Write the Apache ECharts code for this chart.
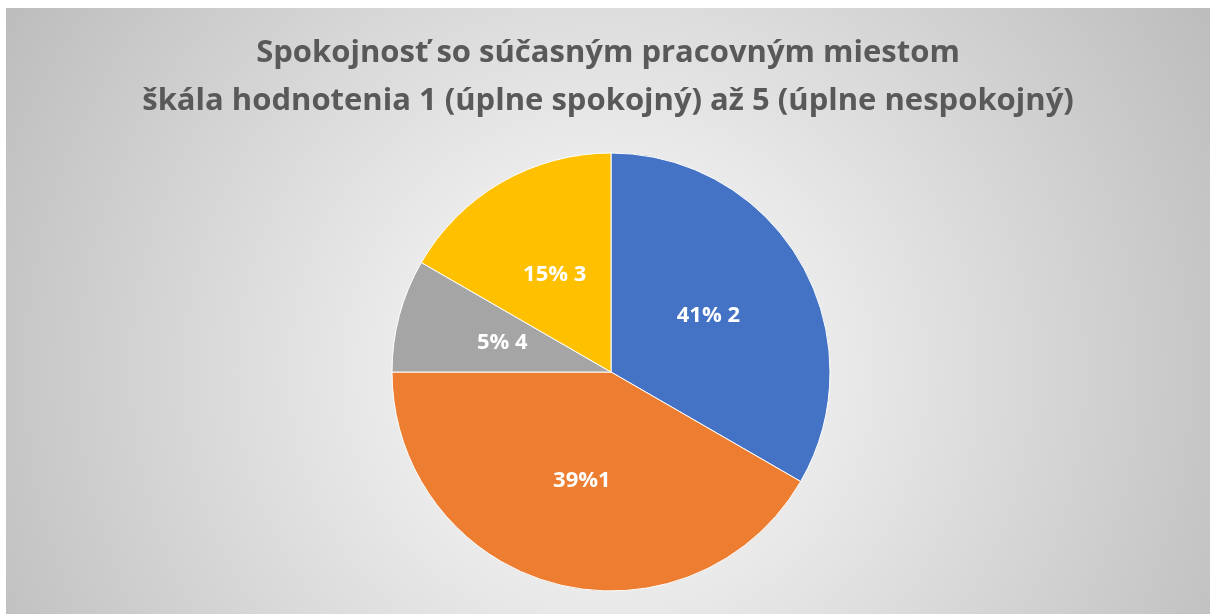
<!DOCTYPE html>
<html>
<head>
<meta charset="utf-8">
<script src="https://cdn.jsdelivr.net/npm/echarts@6/dist/echarts.min.js"></script>
<style>
  html, body { margin: 0; padding: 0; background: #fff; }
  #chart { position: absolute; left: 6px; top: 8px; width: 1204px; height: 606px; }
</style>
</head>
<body>
<div id="chart"></div>
<script>
// slices clockwise from 12 o'clock
var categories = ['2', '1', '4', '3'];
var sliceValues = [4, 5, 1, 2];
var sliceLabels = ['41% 2', '39%1', '5% 4', '15% 3'];
var sliceColors = ['#4472C4', '#ED7D31', '#A5A5A5', '#FFC000'];

var titleLines = [
  'Spokojnosť so súčasným pracovným miestom',
  'škála hodnotenia 1 (úplne spokojný) až 5 (úplne nespokojný)'
];

var chart = echarts.init(document.getElementById('chart'));

var pieData = categories.map(function (c, i) {
  return { name: c, value: sliceValues[i], itemStyle: { color: sliceColors[i] } };
});

chart.setOption({
  backgroundColor: new echarts.graphic.RadialGradient(0.5, 0.6, 1.15, [
    { offset: 0, color: '#ffffff' },
    { offset: 1, color: '#bdbdbd' }
  ]),
  title: {
    text: titleLines.join('\n'),
    left: 'center',
    top: 16,
    textStyle: {
      fontFamily: 'Open Sans',
      fontWeight: 'bold',
      fontSize: 31,
      lineHeight: 48,
      color: '#595959'
    }
  },
  series: [{
    type: 'pie',
    center: [605, 364],
    radius: 219,
    startAngle: 90,
    clockwise: true,
    animation: false,
    itemStyle: { borderColor: '#ffffff', borderWidth: 1 },
    label: {
      position: 'inside',
      color: '#ffffff',
      fontFamily: 'Open Sans',
      fontWeight: 'bold',
      fontSize: 22,
      formatter: function (p) { return sliceLabels[p.dataIndex]; }
    },
    labelLine: { show: false },
    emphasis: { disabled: true },
    data: pieData
  }]
});
</script>
</body>
</html>
